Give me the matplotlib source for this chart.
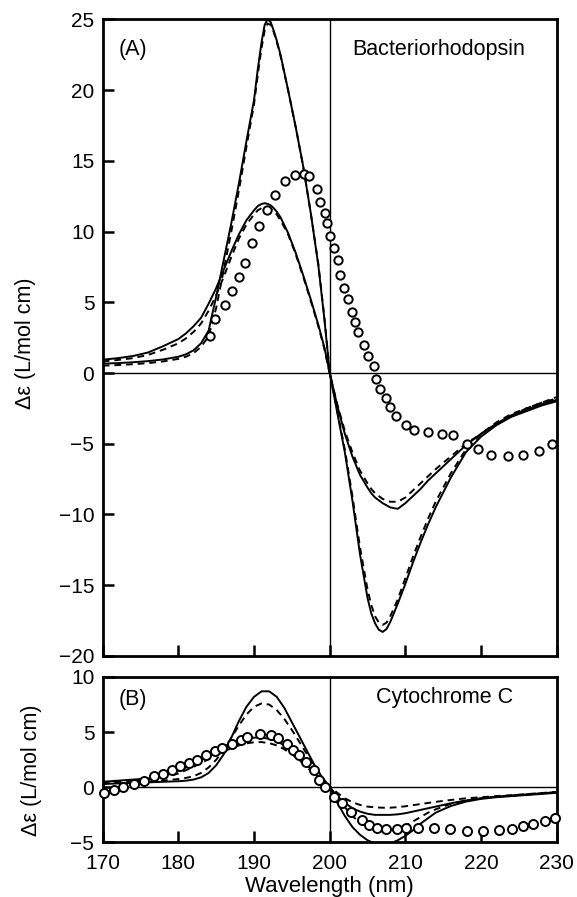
import matplotlib
matplotlib.use("Agg")
import matplotlib.pyplot as plt

plt.rcParams['font.family'] = ['Liberation Sans', 'DejaVu Sans']

# ---- panel A: bacteriorhodopsin ----
wl_a = [170, 172, 174, 176, 178, 180, 181, 182, 183, 184, 185, 186, 187, 188, 189, 190, 190.5,
        191, 191.4, 191.8, 192.2, 192.6, 193, 193.5, 194.5, 195.5, 196.5, 197.5, 198.5, 199.3,
        200, 201, 202, 203, 204, 205, 205.5, 206, 206.5, 207, 207.5, 208, 209, 210, 211, 212,
        213, 214, 216, 218, 220, 222, 224, 226, 228, 230]
big_fit_a = [0.66, 0.70, 0.76, 0.84, 0.96, 1.15, 1.32, 1.6, 2.1, 3.0, 5.4, 8.0, 10.6, 13.4,
             16.4, 19.3, 21.5, 23.4, 24.6, 25.0, 24.8, 24.2, 23.5, 22.5, 20.0, 17.4, 14.6, 11.3,
             7.6, 3.8, 0.0, -2.8, -5.6, -9.0, -12.8, -15.9, -17.0, -17.7, -18.15, -18.3, -18.1,
             -17.6, -16.3, -14.9, -13.4, -12.0, -10.7, -9.5, -7.4, -5.6, -4.5, -3.7, -3.1, -2.7,
             -2.3, -2.0]
big_ref_a = [0.52, 0.56, 0.62, 0.70, 0.82, 1.0, 1.15, 1.4, 1.85, 2.6, 4.6, 7.3, 10.0, 12.9,
             16.0, 19.0, 21.1, 23.0, 24.2, 24.7, 24.6, 24.1, 23.4, 22.4, 20.0, 17.4, 14.6, 11.3,
             7.7, 3.9, 0.1, -2.7, -5.4, -8.7, -12.3, -15.3, -16.4, -17.2, -17.65, -17.8, -17.65,
             -17.2, -16.0, -14.5, -13.0, -11.6, -10.3, -9.1, -7.1, -5.4, -4.3, -3.5, -2.9, -2.5,
             -2.1, -1.8]
small_fit_a = [0.94, 1.05, 1.2, 1.45, 1.9, 2.4, 2.8, 3.3, 3.9, 4.9, 6.0, 7.3, 8.6, 9.8, 10.8,
               11.5, 11.8, 11.95, 12.0, 11.95, 11.85, 11.65, 11.4, 11.0, 9.9, 8.5, 6.9, 5.2,
               3.4, 1.8, 0.0, -2.3, -4.3, -5.9, -7.2, -8.1, -8.5, -8.8, -9.0, -9.2, -9.35,
               -9.5, -9.6, -9.2, -8.7, -8.2, -7.6, -7.1, -6.1, -5.1, -4.3, -3.6, -3.0, -2.6,
               -2.2, -1.9]
small_ref_a = [0.82, 0.92, 1.05, 1.28, 1.65, 2.1, 2.45, 2.9, 3.5, 4.4, 5.5, 6.8, 8.2, 9.5,
               10.5, 11.2, 11.5, 11.65, 11.7, 11.7, 11.6, 11.45, 11.2, 10.8, 9.8, 8.4, 6.8,
               5.1, 3.3, 1.7, -0.05, -2.2, -4.1, -5.6, -6.9, -7.8, -8.2, -8.5, -8.7, -8.9,
               -9.0, -9.1, -9.1, -8.8, -8.3, -7.8, -7.3, -6.8, -5.9, -5.0, -4.3, -3.6, -3.0,
               -2.5, -2.1, -1.7]
exp_wl_a = [184.2, 184.9, 186.1, 187.1, 188.0, 188.8, 189.7, 190.6, 191.7, 192.8, 194.1, 195.4,
            196.6, 197.3, 198.3, 198.7, 199.4, 199.6, 200.1, 200.6, 201.1, 201.4, 201.9, 202.4,
            202.9, 203.4, 203.8, 204.5, 205.1, 205.8, 206.1, 206.6, 207.4, 208.0, 208.8, 210.1,
            211.2, 213.0, 214.8, 216.3, 218.2, 219.6, 221.3, 223.5, 225.5, 227.6, 229.4]
exp_a = [2.65, 3.8, 4.8, 5.8, 6.8, 7.8, 9.2, 10.4, 11.5, 12.6, 13.6, 14.0, 14.1, 13.9, 13.0,
         12.1, 11.3, 10.6, 9.7, 8.8, 8.0, 6.9, 6.0, 5.2, 4.3, 3.6, 2.9, 2.0, 1.2, 0.5, -0.4,
         -1.1, -1.8, -2.4, -3.05, -3.7, -4.0, -4.2, -4.3, -4.4, -5.0, -5.4, -5.8, -5.9, -5.8,
         -5.5, -5.0]

# ---- panel B: cytochrome c ----
wl_b = [170, 172, 174, 176, 178, 180, 181, 182, 183, 184, 185, 186, 187, 188, 189, 190, 191,
        192, 193, 194, 195, 196, 197, 198, 199, 200, 201, 202, 203, 204, 205, 206, 207, 208,
        209, 210, 211, 212, 213, 214, 216, 218, 220, 222, 224, 226, 228, 230]
big_fit_b = [0.30, 0.35, 0.40, 0.45, 0.50, 0.55, 0.60, 0.70, 0.90, 1.30, 2.00, 3.00, 4.50,
             6.00, 7.30, 8.20, 8.70, 8.70, 8.20, 7.20, 5.90, 4.60, 3.30, 2.00, 0.90, 0.00,
             -1.40, -2.60, -3.60, -4.30, -4.80, -5.10, -5.20, -5.10, -4.80, -4.40, -3.90,
             -3.30, -2.80, -2.30, -1.70, -1.30, -1.05, -0.90, -0.80, -0.70, -0.60, -0.50]
big_ref_b = [0.35, 0.40, 0.45, 0.50, 0.60, 0.75, 0.85, 1.00, 1.30, 1.80, 2.50, 3.40, 4.50,
             5.60, 6.60, 7.30, 7.60, 7.50, 7.00, 6.20, 5.20, 4.10, 3.00, 1.90, 0.90, 0.05,
             -0.90, -1.80, -2.60, -3.20, -3.60, -3.90, -4.00, -4.00, -3.80, -3.50, -3.10,
             -2.70, -2.30, -2.00, -1.50, -1.20, -1.00, -0.85, -0.75, -0.65, -0.55, -0.45]
small_fit_b = [0.50, 0.60, 0.70, 0.80, 1.00, 1.50, 1.80, 2.10, 2.50, 2.90, 3.30, 3.70, 4.00,
               4.25, 4.40, 4.50, 4.50, 4.40, 4.20, 3.80, 3.30, 2.70, 2.00, 1.30, 0.60, 0.00,
               -0.80, -1.40, -1.90, -2.20, -2.40, -2.50, -2.50, -2.50, -2.45, -2.35, -2.20,
               -2.05, -1.90, -1.75, -1.45, -1.20, -1.00, -0.85, -0.75, -0.65, -0.55, -0.45]
small_ref_b = [0.40, 0.50, 0.60, 0.70, 0.85, 1.25, 1.55, 1.85, 2.20, 2.55, 2.90, 3.25, 3.55,
               3.80, 3.98, 4.08, 4.10, 4.00, 3.80, 3.45, 3.00, 2.45, 1.80, 1.15, 0.55, 0.10,
               -0.50, -1.00, -1.35, -1.60, -1.75, -1.82, -1.85, -1.85, -1.80, -1.72, -1.62,
               -1.52, -1.42, -1.32, -1.15, -1.00, -0.90, -0.80, -0.72, -0.62, -0.52, -0.42]
exp_wl_b = [170.2, 171.5, 172.7, 174.1, 175.4, 176.8, 178.0, 179.2, 180.2, 181.4, 182.4, 183.6,
            184.9, 185.8, 187.1, 188.3, 189.1, 190.8, 192.2, 193.2, 194.4, 195.2, 195.9, 196.9,
            197.9, 198.6, 199.4, 200.6, 201.6, 202.8, 204.3, 205.2, 206.3, 207.4, 208.9, 210.1,
            211.7, 213.8, 215.9, 218.2, 220.2, 222.4, 224.1, 225.6, 226.9, 228.4, 229.8]
exp_b = [-0.5, -0.25, 0.06, 0.3, 0.6, 1.0, 1.2, 1.6, 1.9, 2.2, 2.5, 2.9, 3.25, 3.55, 3.95, 4.3,
         4.55, 4.8, 4.7, 4.5, 3.9, 3.4, 2.95, 2.25, 1.6, 0.7, 0.0, -0.85, -1.45, -2.2, -3.0,
         -3.4, -3.65, -3.8, -3.8, -3.7, -3.65, -3.7, -3.75, -3.95, -3.95, -3.9, -3.75, -3.5,
         -3.3, -3.05, -2.75]

yticks_a = [-20, -15, -10, -5, 0, 5, 10, 15, 20, 25]
yticks_b = [-5, 0, 5, 10]
xticks = [170, 180, 190, 200, 210, 220, 230]

fig = plt.figure(figsize=(5.77, 8.97), dpi=100)
ax_a = fig.add_axes([0.178, 0.2687, 0.7868, 0.7098])
ax_b = fig.add_axes([0.178, 0.0608, 0.7868, 0.1845])

dash = (3.5, 2.5)


def draw(ax, wl, curves, exp_wl, exp, ms):
    ax.axhline(0, color='black', lw=1.0, zorder=1)
    ax.axvline(200, color='black', lw=1.0, zorder=1)
    for vals, style in curves:
        if style == 'solid':
            ax.plot(wl, vals, color='black', lw=1.4, zorder=2)
        else:
            ax.plot(wl, vals, color='black', lw=1.4, dashes=dash, zorder=2)
    ax.plot(exp_wl, exp, 'o', mfc='white', mec='black', ms=ms, mew=1.4, zorder=3,
            clip_on=False)
    ax.set_xlim(170, 230)
    for s in ax.spines.values():
        s.set_linewidth(2.0)
    ax.tick_params(direction='in', length=8, width=1.8, labelsize=15, pad=6,
                   top=False, right=False)


draw(ax_a, wl_a, [(big_fit_a, 'solid'), (big_ref_a, 'dash'),
                  (small_fit_a, 'solid'), (small_ref_a, 'dash')],
     exp_wl_a, exp_a, 6)
draw(ax_b, wl_b, [(big_fit_b, 'solid'), (big_ref_b, 'dash'),
                  (small_fit_b, 'solid'), (small_ref_b, 'dash')],
     exp_wl_b, exp_b, 6.5)

ax_a.set_ylim(-20, 25)
ax_a.set_yticks(yticks_a)
ax_a.set_xticks(xticks)
ax_a.tick_params(labelbottom=False)

ax_b.set_ylim(-5, 10)
ax_b.set_yticks(yticks_b)
ax_b.set_xticks(xticks)
ax_b.tick_params(axis='x', pad=8)

ax_a.text(0.034, 0.953, '(A)', transform=ax_a.transAxes, fontsize=15.5, va='center', ha='left')
ax_a.text(0.741, 0.953, 'Bacteriorhodopsin', transform=ax_a.transAxes, fontsize=15.5,
          va='center', ha='center')
ax_b.text(0.034, 0.861, '(B)', transform=ax_b.transAxes, fontsize=15.5, va='center', ha='left')
ax_b.text(0.752, 0.875, 'Cytochrome C', transform=ax_b.transAxes, fontsize=15.5,
          va='center', ha='center')

ax_a.set_ylabel('Δε (L/mol cm)', fontsize=15.5)
ax_a.yaxis.set_label_coords(-0.171, 0.4916)
ax_a.yaxis.label.set_va('center')
ax_b.set_ylabel('Δε (L/mol cm)', fontsize=15.5)
ax_b.yaxis.set_label_coords(-0.156, 0.438)
ax_b.yaxis.label.set_va('center')
ax_b.set_xlabel('Wavelength (nm)', fontsize=16)
ax_b.xaxis.set_label_coords(0.5, -0.265)
ax_b.xaxis.label.set_va('center')

fig.savefig('out.png', dpi=100)
